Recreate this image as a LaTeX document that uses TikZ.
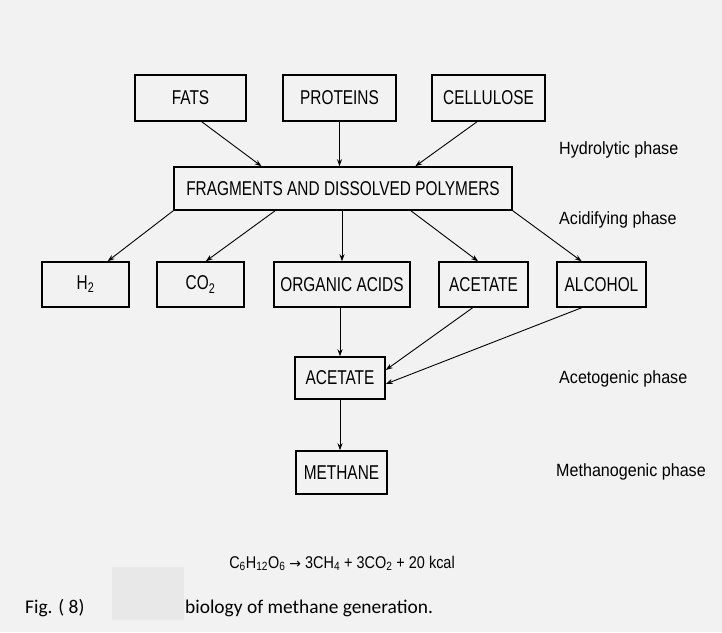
\documentclass[tikz,border=0pt]{standalone}
\usepackage{fontspec}
\usetikzlibrary{arrows.meta,calc}
\newfontfamily\boxfont[FakeStretch=0.77]{Liberation Sans}
\newfontfamily\phasefont[FakeStretch=0.91]{Liberation Sans}
\newfontfamily\eqfont[FakeStretch=0.85]{Liberation Sans}
\newfontfamily\capfont{Carlito}
\newfontfamily\arrfont{DejaVu Sans}
\definecolor{bg}{RGB}{242,242,242}
\definecolor{redact}{RGB}{232,232,232}
\tikzset{
  box/.style={draw=black, line width=1.5pt, inner sep=0pt, minimum height=45pt,
    font=\boxfont\fontsize{20}{22}\selectfont},
  phase/.style={anchor=west, inner sep=0pt, font=\phasefont\fontsize{17.7}{20}\selectfont},
  arr/.style={draw=black, line width=0.9pt, -{Stealth[length=7pt,width=5pt]}},
}
\begin{document}
\begin{tikzpicture}[x=1pt,y=-1pt]
\fill[bg] (0,0) rectangle (722,632);
\useasboundingbox (0,0) rectangle (722,632);

% top row
\node[box, minimum width=111pt, minimum height=46pt] (fats) at (190.5,98) {FATS};
\node[box, minimum width=113pt, minimum height=46pt] (prot) at (339.5,98) {PROTEINS};
\node[box, minimum width=113pt, minimum height=46pt] (cell) at (488.5,98) {CELLULOSE};
% fragments
\node[box, minimum width=338pt, minimum height=43pt] (frag) at (343,188.5) {FRAGMENTS AND DISSOLVED POLYMERS};
% third row
\node[box, minimum width=87pt] (h2) at (85.5,284.5) {H\textsubscript{2}};
\node[box, minimum width=87pt] (co2) at (200.5,284.5) {CO\textsubscript{2}};
\node[box, minimum width=136pt] (oa) at (342,284.5) {ORGANIC ACIDS};
\node[box, minimum width=89pt] (ac1) at (483.5,284.5) {ACETATE};
\node[box, minimum width=89pt] (alc) at (601.5,284.5) {ALCOHOL};
% lower
\node[box, minimum width=90pt, minimum height=42pt] (ac2) at (340,378) {ACETATE};
\node[box, minimum width=91pt, minimum height=43pt] (meth) at (341.5,472.5) {METHANE};

% phase labels
\node[phase] (ph1) at (559,150) {Hydrolytic phase};
\node[phase] (ph2) at (559,220) {Acidifying phase};
\node[phase] (ph3) at (559,379) {Acetogenic phase};
\node[phase] (ph4) at (556,471.5) {Methanogenic phase};

% arrows top -> fragments
\draw[arr] ($(fats.south west)!0.6!(fats.south east)$) -- ($(frag.north west)!0.26!(frag.north east)$);
\draw[arr] (prot.south) -- (prot.south |- frag.north);
\draw[arr] ($(cell.south west)!0.4!(cell.south east)$) -- ($(frag.north west)!0.713!(frag.north east)$);
% fragments -> third row
\draw[arr] (frag.south west) -- ($(h2.north west)!0.75!(h2.north east)$);
\draw[arr] ($(frag.south west)!0.3!(frag.south east)$) -- ($(co2.north west)!0.56!(co2.north east)$);
\draw[arr] (oa.north |- frag.south) -- (oa.north);
\draw[arr] ($(frag.south west)!0.7!(frag.south east)$) -- ($(ac1.north west)!0.44!(ac1.north east)$);
\draw[arr] (frag.south east) -- ($(alc.north west)!0.28!(alc.north east)$);
% third row -> acetate
\draw[arr] (ac2.north |- oa.south) -- (ac2.north);
\draw[arr] ($(ac1.south west)!0.38!(ac1.south east)$) -- ([yshift=8pt]ac2.east);
\draw[arr] ($(alc.south west)!0.28!(alc.south east)$) -- ([yshift=-6pt]ac2.east);
% acetate -> methane
\draw[arr] (ac2.south) -- (ac2.south |- meth.north);

% equation
\node[anchor=base, inner sep=0pt, font=\eqfont\fontsize{17}{19}\selectfont] (eq) at (342,568)
  {C\textsubscript{6}H\textsubscript{12}O\textsubscript{6} {\arrfont\fontsize{14}{18}\selectfont →} 3CH\textsubscript{4} + 3CO\textsubscript{2} + 20 kcal};

% caption
\node[anchor=base west, inner sep=0pt, font=\capfont\fontsize{19.4}{22}\selectfont] (figno) at (25,613) {Fig. ( 8)};
\fill[redact] (112,567) rectangle (184,620);
\node[anchor=base west, inner sep=0pt, font=\capfont\fontsize{19.4}{22}\selectfont] (cap) at (185,613) {biology of methane generation.};
\end{tikzpicture}
\end{document}
